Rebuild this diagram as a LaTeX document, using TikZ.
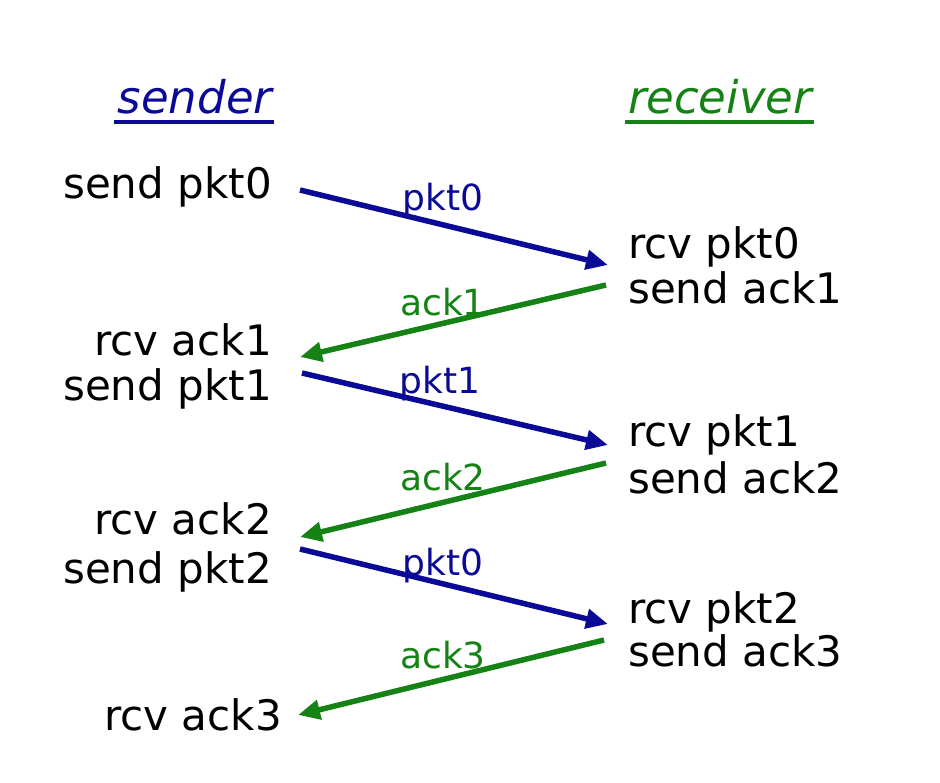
\documentclass[tikz,border=0pt]{standalone}
\usepackage{fontspec}
\setmainfont{DejaVu Sans}
\usetikzlibrary{arrows.meta,positioning}
\definecolor{sendblue}{RGB}{10,10,150}
\definecolor{rcvgreen}{RGB}{20,130,20}

\begin{document}
\begin{tikzpicture}[x=1pt,y=-1pt,% pixel-like coordinates, y grows downwards
			every node/.style={
				inner sep=0pt,		% text sits right on the anchor
				font=\fontsize{42}{50}\selectfont
			},
			title/.style={font=\fontsize{45}{53}\selectfont\itshape},
			lbl/.style={font=\fontsize{36}{43}\selectfont,anchor=base},
			msg/.style={line width=5.5pt,-{Triangle[length=22pt,width=19pt]}}
		]
		\useasboundingbox (0,0) rectangle (940,782);
		% titles
		\node[title,text=sendblue,anchor=base](S) at (195,113){sender};
		\node[title,text=rcvgreen,anchor=base](R) at (720,113){receiver};
		\draw[sendblue,line width=3.5pt] ([xshift=-4pt,yshift=-9pt]S.base west) -- ([xshift=2pt,yshift=-9pt]S.base east);
		\draw[rcvgreen,line width=3.5pt] ([xshift=-3pt,yshift=-9pt]R.base west) -- ([xshift=2pt,yshift=-9pt]R.base east);
		% sender side
		\node[anchor=base east](SP0) at (272,198){send pkt0};
		\node[anchor=base east](RA1) at (272,355){rcv ack1};
		\node[below=45pt of RA1.base east,anchor=base east](SP1){send pkt1};
		\node[anchor=base east](RA2) at (272,534){rcv ack2};
		\node[below=49pt of RA2.base east,anchor=base east](SP2){send pkt2};
		\node[anchor=base east](RA3) at (282,730){rcv ack3};
		% receiver side
		\node[anchor=base west](RP0) at (628,258){rcv pkt0};
		\node[below=45pt of RP0.base west,anchor=base west](SA1){send ack1};
		\node[anchor=base west](RP1) at (628,446){rcv pkt1};
		\node[below=47pt of RP1.base west,anchor=base west](SA2){send ack2};
		\node[anchor=base west](RP2) at (628,623){rcv pkt2};
		\node[below=43pt of RP2.base west,anchor=base west](SA3){send ack3};
		% messages
		\draw[msg,sendblue] ([xshift=28pt,yshift=8pt]SP0.base east) -- ([xshift=-20pt,yshift=-7pt]RP0.base west);
		\draw[msg,rcvgreen] ([xshift=-22pt,yshift=18pt]SA1.base west) -- ([xshift=28pt,yshift=-2pt]RA1.base east);
		\draw[msg,sendblue] ([xshift=30pt,yshift=27pt]SP1.base east) -- ([xshift=-20pt,yshift=1pt]RP1.base west);
		\draw[msg,rcvgreen] ([xshift=-22pt,yshift=30pt]SA2.base west) -- ([xshift=28pt,yshift=-3pt]RA2.base east);
		\draw[msg,sendblue] ([xshift=28pt,yshift=34pt]SP2.base east) -- ([xshift=-20pt,yshift=-1pt]RP2.base west);
		\draw[msg,rcvgreen] ([xshift=-24pt,yshift=26pt]SA3.base west) -- ([xshift=16pt,yshift=15pt]RA3.base east);
		% message labels
		\node[lbl,text=sendblue](L1) at (443,210){pkt0};
		\node[lbl,text=rcvgreen](L2) at (443,315){ack1};
		\node[lbl,text=sendblue](L3) at (440,393){pkt1};
		\node[lbl,text=rcvgreen](L4) at (443,490){ack2};
		\node[lbl,text=sendblue](L5) at (443,575){pkt0};
		\node[lbl,text=rcvgreen](L6) at (443,668){ack3};
	\end{tikzpicture}
\end{document}
